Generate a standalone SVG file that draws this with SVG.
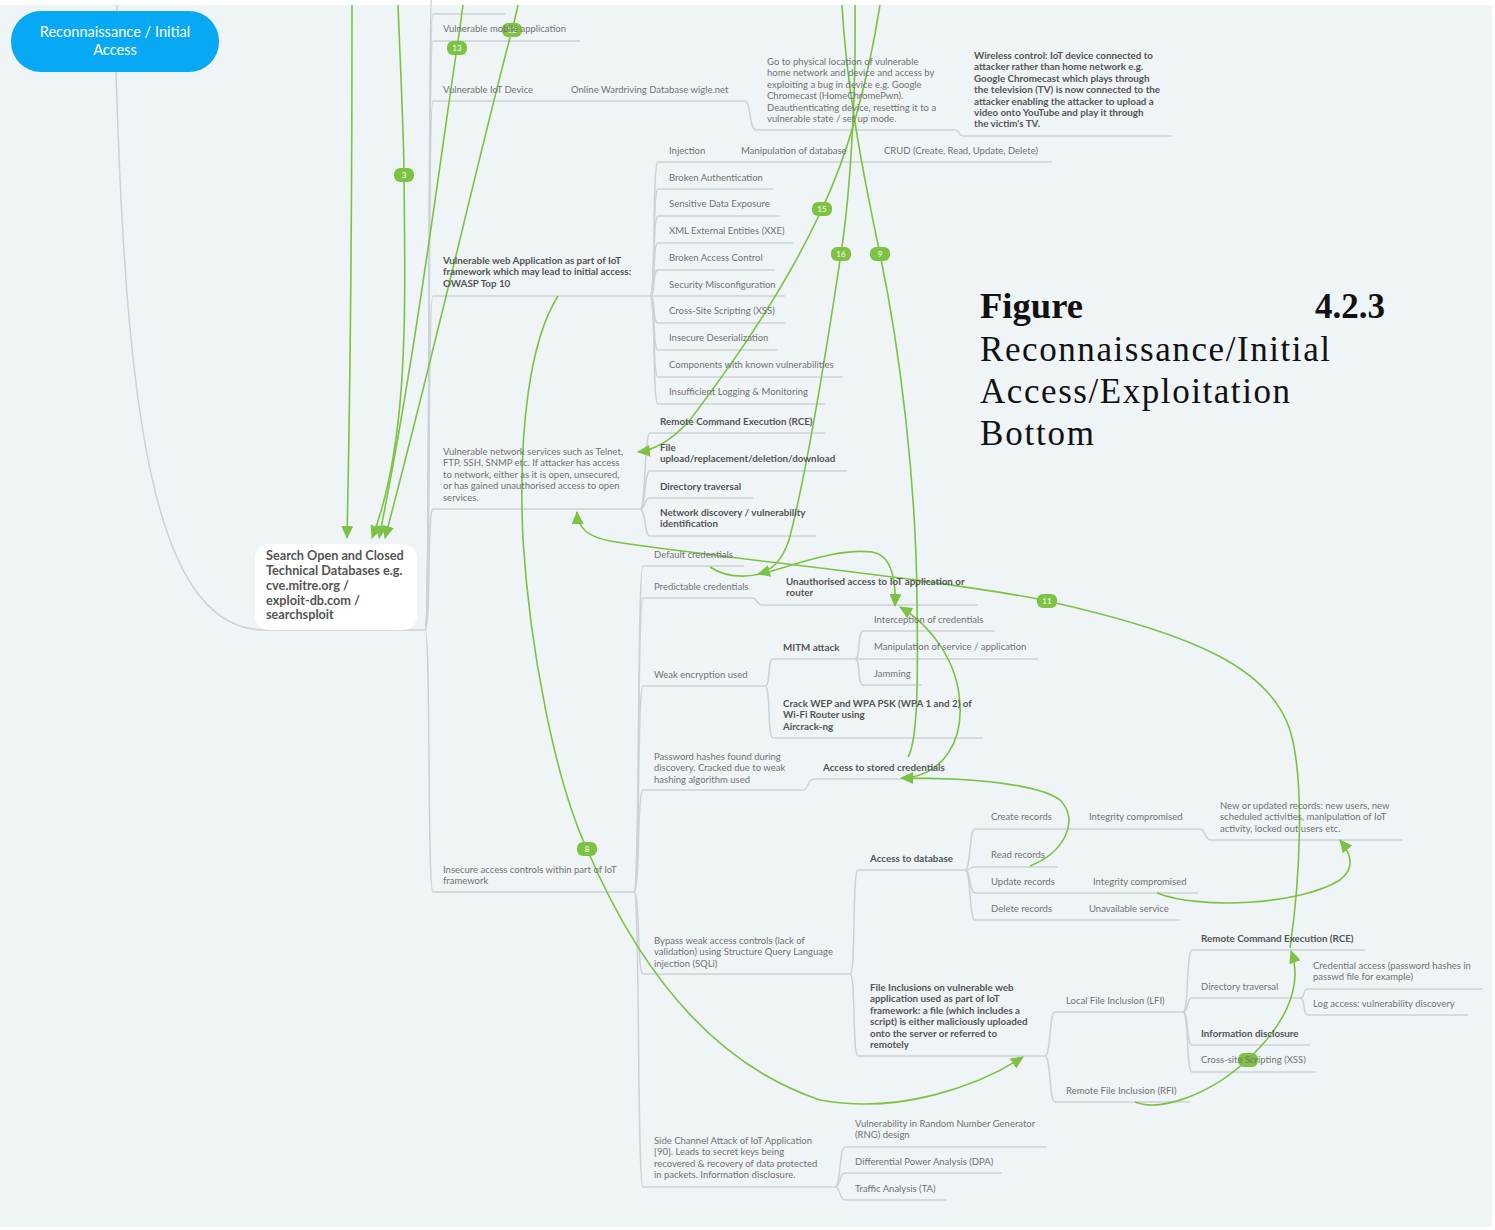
<svg xmlns="http://www.w3.org/2000/svg" width="1495" height="1230" viewBox="0 0 1495 1230">
  <style>
    .ln { fill: none; stroke: #cdd2d6; stroke-width: 1.5; }
    .g { fill: none; stroke: #7dc242; stroke-width: 1.6; }
    .ga { fill: none; stroke: #7dc242; stroke-width: 1.6; marker-end: url(#arr); }
    .t { font-family: Lato, "Open Sans", "Liberation Sans", sans-serif; font-size: 9.5px; fill: #727272; }
    .b { font-family: Lato, "Open Sans", "Liberation Sans", sans-serif; font-size: 9.8px; font-weight: bold; fill: #555555; }
    .bd { fill: #7dc242; }
    .bt { font-family: Lato, "Liberation Sans", sans-serif; font-size: 8px; fill: #ffffff; text-anchor: middle; }
    .cap { font-family: "Liberation Serif", "Times New Roman", serif; font-size: 35px; fill: #111111; }
  </style>
  <defs>
    <marker id="arr" markerUnits="userSpaceOnUse" markerWidth="14" markerHeight="12" refX="12" refY="6" orient="auto">
      <path d="M0,0 L13,6 L0,12 Z" fill="#7dc242"/>
    </marker>
  </defs>

  <!-- canvas -->
  <rect x="0" y="0" width="1495" height="1230" fill="#ffffff"/>
  <rect x="0" y="5" width="1492" height="1222" fill="#eff4f7"/>

  <!-- tree branches -->
  <g id="branches">
    <path class="ln" d="M117,5 L117,14"/>
    <path class="ln" d="M116,72 C126,400 150,626 262,630 L425,630"/>
    <!-- trunk from the search node -->
    <path class="ln" d="M425,630 C431,630 427,-30 433,-30"/>
    <path class="ln" d="M425,630 C431,630 427,14 433,14"/>
    <path class="ln" d="M425,630 C431,630 427,41 433,41"/>
    <path class="ln" d="M425,630 C431,630 427,101 433,101"/>
    <path class="ln" d="M425,630 C431,630 427,296 433,296"/>
    <path class="ln" d="M425,630 C431,630 427,509 433,509"/>
    <path class="ln" d="M425,630 C431,630 427,892 433,892"/>
    <path class="ln" d="M433,14 H505"/>
    <path class="ln" d="M433,41 H580"/>
    <path class="ln" d="M433,101 H745 C751,101 749,130 756,130 H955 C960,130 958,136 964,136 H1172"/>
    <path class="ln" d="M433,296 H650"/>
    <path class="ln" d="M433,509 H640"/>
    <path class="ln" d="M433,892 H634"/>

    <!-- OWASP top 10 -->
    <path class="ln" d="M650,296 C656,296 652,162 658,162 H1052"/>
    <path class="ln" d="M650,296 C656,296 652,189 658,189 H773"/>
    <path class="ln" d="M650,296 C656,296 652,216 658,216 H780"/>
    <path class="ln" d="M650,296 C656,296 652,243 658,243 H793"/>
    <path class="ln" d="M650,296 C656,296 652,270 658,270 H775"/>
    <path class="ln" d="M650,296 H785"/>
    <path class="ln" d="M650,296 C656,296 652,323 658,323 H785"/>
    <path class="ln" d="M650,296 C656,296 652,350 658,350 H778"/>
    <path class="ln" d="M650,296 C656,296 652,377 658,377 H843"/>
    <path class="ln" d="M650,296 C656,296 652,404 658,404 H825"/>

    <!-- network services -->
    <path class="ln" d="M640,509 C646,509 644,433 650,433 H825"/>
    <path class="ln" d="M640,509 C646,509 644,471 650,471 H847"/>
    <path class="ln" d="M640,509 C646,509 644,498 650,498 H753"/>
    <path class="ln" d="M640,509 C646,509 644,536 650,536 H816"/>

    <!-- insecure access controls -->
    <path class="ln" d="M634,892 C640,892 637,566 643,566 H744"/>
    <path class="ln" d="M634,892 C640,892 637,598 643,598 H752 C758,598 756,605 763,605 H978"/>
    <path class="ln" d="M634,892 C640,892 637,686 643,686 H765"/>
    <path class="ln" d="M634,892 C640,892 637,790 643,790 H803 C809,790 807,779 814,779 H955"/>
    <path class="ln" d="M634,892 C640,892 637,974 643,974 H850"/>
    <path class="ln" d="M634,892 C640,892 637,1187 643,1187 H835"/>

    <!-- weak encryption -->
    <path class="ln" d="M765,686 C771,686 767,659 773,659 H855"/>
    <path class="ln" d="M765,686 C771,686 767,738 773,738 H983"/>
    <path class="ln" d="M855,659 C861,659 857,631 863,631 H995"/>
    <path class="ln" d="M855,659 H1038"/>
    <path class="ln" d="M855,659 C861,659 857,685 863,685 H922"/>

    <!-- SQLi bypass -->
    <path class="ln" d="M850,974 C856,974 852,870 858,870 H965"/>
    <path class="ln" d="M850,974 C856,974 852,1056 858,1056 H1045"/>
    <path class="ln" d="M965,870 C971,870 969,829 975,829 H1200 C1206,829 1204,840 1211,840 H1403"/>
    <path class="ln" d="M965,870 C971,870 969,867 975,867 H1058"/>
    <path class="ln" d="M965,870 C971,870 969,893 975,893 H1198"/>
    <path class="ln" d="M965,870 C971,870 969,920 975,920 H1180"/>

    <!-- file inclusions -->
    <path class="ln" d="M1045,1056 C1051,1056 1049,1012 1055,1012 H1183"/>
    <path class="ln" d="M1045,1056 C1051,1056 1049,1102 1055,1102 H1190"/>
    <path class="ln" d="M1183,1012 C1189,1012 1186,950 1192,950 H1365"/>
    <path class="ln" d="M1183,1012 C1189,1012 1186,998 1192,998 H1300"/>
    <path class="ln" d="M1183,1012 C1189,1012 1186,1045 1192,1045 H1310"/>
    <path class="ln" d="M1183,1012 C1189,1012 1186,1072 1192,1072 H1316"/>
    <path class="ln" d="M1300,998 C1306,998 1302,989 1308,989 H1483"/>
    <path class="ln" d="M1300,998 C1306,998 1302,1015 1308,1015 H1468"/>

    <!-- side channel -->
    <path class="ln" d="M835,1187 C841,1187 839,1147 845,1147 H1047"/>
    <path class="ln" d="M835,1187 C841,1187 839,1173 845,1173 H1002"/>
    <path class="ln" d="M835,1187 C841,1187 839,1200 845,1200 H947"/>
  </g>

  <!-- cross links -->
  <g id="links">
    <path class="ga" d="M352,5 C352,200 350,400 347,538"/>
    <path class="ga" d="M398,5 C401,80 404,140 404,175 C405,300 410,440 372,538"/>
    <path class="ga" d="M463,5 C461,20 459,35 457,48 C440,160 415,360 379,538"/>
    <path class="ga" d="M518,5 C516,15 514,22 512,30 C480,150 440,330 385,538"/>
    <path class="ga" d="M880,5 C868,80 850,150 822,209 C780,300 720,380 690,420 C672,440 656,450 638,452"/>
    <path class="ga" d="M855,5 C856,80 852,180 841,254 C825,360 805,480 789,540 C782,560 773,570 758,574"/>
    <path class="g" d="M842,5 C846,80 860,160 880,254 C900,350 916,480 917,600 C918,680 918,740 908,757"/>
    <path class="ga" d="M1290,948 C1300,880 1305,780 1290,730 C1270,670 1200,635 1047,601 C950,580 700,556 610,541 C590,537 578,530 577,512"/>
    <path class="ga" d="M558,296 C530,340 518,430 523,540 C530,650 555,780 587,849 C630,950 700,1060 820,1100 C900,1115 980,1085 1023,1057"/>
    <path class="ga" d="M710,567 C725,577 745,578 765,573 C800,563 840,548 872,552 C892,555 896,580 895,606"/>
    <path class="ga" d="M908,778 C945,772 962,740 960,705 C958,660 930,625 900,607"/>
    <path class="ga" d="M1030,866 C1065,852 1080,820 1060,800 C1040,785 980,778 901,778"/>
    <path class="ga" d="M1157,893 C1200,910 1300,905 1340,880 C1355,868 1352,855 1340,840"/>
    <path class="ga" d="M1135,1102 C1160,1112 1210,1095 1247,1060 C1280,1030 1305,990 1291,951"/>
  </g>

  <!-- link badges -->
  <g id="badges">
    <rect class="bd" x="394" y="168" width="20" height="14" rx="6"/><text class="bt" x="404" y="178">3</text>
    <rect class="bd" x="447" y="41" width="20" height="14" rx="6"/><text class="bt" x="457" y="51">13</text>
    <rect class="bd" x="502" y="23" width="20" height="14" rx="6"/><text class="bt" x="512" y="33">12</text>
    <rect class="bd" x="812" y="202" width="20" height="14" rx="6"/><text class="bt" x="822" y="212">15</text>
    <rect class="bd" x="831" y="247" width="20" height="14" rx="6"/><text class="bt" x="841" y="257">16</text>
    <rect class="bd" x="870" y="247" width="20" height="14" rx="6"/><text class="bt" x="880" y="257">9</text>
    <rect class="bd" x="1037" y="594" width="20" height="14" rx="6"/><text class="bt" x="1047" y="604">11</text>
    <rect class="bd" x="577" y="842" width="20" height="14" rx="6"/><text class="bt" x="587" y="852">8</text>
    <rect class="bd" x="1238" y="1053" width="20" height="14" rx="6"/>
  </g>

  <!-- root -->
  <g id="root">
    <rect x="11" y="11" width="208" height="61" rx="30" fill="#08a9f4"/>
    <text x="115" y="37" font-family="Lato, 'Liberation Sans', sans-serif" font-size="14.6" fill="#ffffff" text-anchor="middle">Reconnaissance / Initial</text>
    <text x="115" y="55" font-family="Lato, 'Liberation Sans', sans-serif" font-size="14.6" fill="#ffffff" text-anchor="middle">Access</text>
  </g>

  <g id="search">
    <rect x="255" y="544" width="162" height="86" rx="14" fill="#ffffff"/>
    <text font-family="Lato, 'Liberation Sans', sans-serif" font-size="12.7" font-weight="bold" fill="#555555">
      <tspan x="266" y="560">Search Open and Closed</tspan>
      <tspan x="266" y="575">Technical Databases e.g.</tspan>
      <tspan x="266" y="590">cve.mitre.org /</tspan>
      <tspan x="266" y="605">exploit-db.com /</tspan>
      <tspan x="266" y="619">searchsploit</tspan>
    </text>
  </g>

  <g id="n-mobile"><text class="t" x="443" y="32">Vulnerable mobile application</text></g>
  <g id="n-iot"><text class="t" x="443" y="93">Vulnerable IoT Device</text></g>
  <g id="n-wigle"><text class="t" x="571" y="93">Online Wardriving Database wigle.net</text></g>
  <g id="n-physical">
    <text class="t">
      <tspan x="767" y="65">Go to physical location of vulnerable</tspan>
      <tspan x="767" y="76.4">home network and device and access by</tspan>
      <tspan x="767" y="87.8">exploiting a bug in device e.g. Google</tspan>
      <tspan x="767" y="99.2">Chromecast (HomeChromePwn).</tspan>
      <tspan x="767" y="110.6">Deauthenticating device, resetting it to a</tspan>
      <tspan x="767" y="122">vulnerable state / set up mode.</tspan>
    </text>
  </g>
  <g id="n-wireless">
    <text class="b">
      <tspan x="974" y="59">Wireless control: IoT device connected to</tspan>
      <tspan x="974" y="70.4">attacker rather than home network e.g.</tspan>
      <tspan x="974" y="81.8">Google Chromecast which plays through</tspan>
      <tspan x="974" y="93.2">the television (TV) is now connected to the</tspan>
      <tspan x="974" y="104.6">attacker enabling the attacker to upload a</tspan>
      <tspan x="974" y="116">video onto YouTube and play it through</tspan>
      <tspan x="974" y="127.4">the victim's TV.</tspan>
    </text>
  </g>

  <g id="n-owasp">
    <text class="b">
      <tspan x="443" y="264">Vulnerable web Application as part of IoT</tspan>
      <tspan x="443" y="275.4">framework which may lead to initial access:</tspan>
      <tspan x="443" y="286.8">OWASP Top 10</tspan>
    </text>
  </g>
  <g id="n-injection"><text class="t" x="669" y="154">Injection</text></g>
  <g id="n-manipdb"><text class="t" x="741" y="154">Manipulation of database</text></g>
  <g id="n-crud"><text class="t" x="884" y="154">CRUD (Create, Read, Update, Delete)</text></g>
  <g id="n-brokenauth"><text class="t" x="669" y="181">Broken Authentication</text></g>
  <g id="n-sde"><text class="t" x="669" y="207">Sensitive Data Exposure</text></g>
  <g id="n-xxe"><text class="t" x="669" y="234">XML External Entities (XXE)</text></g>
  <g id="n-bac"><text class="t" x="669" y="261">Broken Access Control</text></g>
  <g id="n-misconf"><text class="t" x="669" y="288">Security Misconfiguration</text></g>
  <g id="n-xss"><text class="t" x="669" y="314">Cross-Site Scripting (XSS)</text></g>
  <g id="n-deser"><text class="t" x="669" y="341">Insecure Deserialization</text></g>
  <g id="n-components"><text class="t" x="669" y="368">Components with known vulnerabilities</text></g>
  <g id="n-logging"><text class="t" x="669" y="395">Insufficient Logging &amp; Monitoring</text></g>

  <g id="n-netsvc">
    <text class="t">
      <tspan x="443" y="455">Vulnerable network services such as Telnet,</tspan>
      <tspan x="443" y="466.4">FTP, SSH, SNMP etc. If attacker has access</tspan>
      <tspan x="443" y="477.8">to network, either as it is open, unsecured,</tspan>
      <tspan x="443" y="489.2">or has gained unauthorised access to open</tspan>
      <tspan x="443" y="500.6">services.</tspan>
    </text>
  </g>
  <g id="n-rce1"><text class="b" x="660" y="425">Remote Command Execution (RCE)</text></g>
  <g id="n-fileup">
    <text class="b"><tspan x="660" y="451">File</tspan><tspan x="660" y="462.4">upload/replacement/deletion/download</tspan></text>
  </g>
  <g id="n-dirtrav1"><text class="b" x="660" y="490">Directory traversal</text></g>
  <g id="n-netdisc">
    <text class="b"><tspan x="660" y="516">Network discovery / vulnerability</tspan><tspan x="660" y="527.4">identification</tspan></text>
  </g>

  <g id="n-insecure">
    <text class="t"><tspan x="443" y="873">Insecure access controls within part of IoT</tspan><tspan x="443" y="884.4">framework</tspan></text>
  </g>
  <g id="n-default"><text class="t" x="654" y="558">Default credentials</text></g>
  <g id="n-predict"><text class="t" x="654" y="590">Predictable credentials</text></g>
  <g id="n-unauth">
    <text class="b"><tspan x="786" y="585">Unauthorised access to IoT application or</tspan><tspan x="786" y="596.4">router</tspan></text>
  </g>
  <g id="n-weakenc"><text class="t" x="654" y="678">Weak encryption used</text></g>
  <g id="n-mitm"><text class="b" x="783" y="651">MITM attack</text></g>
  <g id="n-intercept"><text class="t" x="874" y="623">Interception of credentials</text></g>
  <g id="n-manipsvc"><text class="t" x="874" y="650">Manipulation of service / application</text></g>
  <g id="n-jamming"><text class="t" x="874" y="677">Jamming</text></g>
  <g id="n-crack">
    <text class="b">
      <tspan x="783" y="707">Crack WEP and WPA PSK (WPA 1 and 2) of</tspan>
      <tspan x="783" y="718.4">Wi-Fi Router using</tspan>
      <tspan x="783" y="729.8">Aircrack-ng</tspan>
    </text>
  </g>
  <g id="n-hashes">
    <text class="t">
      <tspan x="654" y="760">Password hashes found during</tspan>
      <tspan x="654" y="771.4">discovery. Cracked due to weak</tspan>
      <tspan x="654" y="782.8">hashing algorithm used</tspan>
    </text>
  </g>
  <g id="n-stored"><text class="b" x="823" y="771">Access to stored credentials</text></g>
  <g id="n-bypass">
    <text class="t">
      <tspan x="654" y="944">Bypass weak access controls (lack of</tspan>
      <tspan x="654" y="955.4">validation) using Structure Query Language</tspan>
      <tspan x="654" y="966.8">injection (SQLi)</tspan>
    </text>
  </g>
  <g id="n-db"><text class="b" x="870" y="862">Access to database</text></g>
  <g id="n-create"><text class="t" x="991" y="820">Create records</text></g>
  <g id="n-integ1"><text class="t" x="1089" y="820">Integrity compromised</text></g>
  <g id="n-newrec">
    <text class="t">
      <tspan x="1220" y="809">New or updated records: new users, new</tspan>
      <tspan x="1220" y="820.4">scheduled activities, manipulation of IoT</tspan>
      <tspan x="1220" y="831.8">activity, locked out users etc.</tspan>
    </text>
  </g>
  <g id="n-read"><text class="t" x="991" y="858">Read records</text></g>
  <g id="n-update"><text class="t" x="991" y="885">Update records</text></g>
  <g id="n-integ2"><text class="t" x="1093" y="885">Integrity compromised</text></g>
  <g id="n-delete"><text class="t" x="991" y="912">Delete records</text></g>
  <g id="n-unavail"><text class="t" x="1089" y="912">Unavailable service</text></g>
  <g id="n-fileincl">
    <text class="b">
      <tspan x="870" y="991">File Inclusions on vulnerable web</tspan>
      <tspan x="870" y="1002.4">application used as part of IoT</tspan>
      <tspan x="870" y="1013.8">framework: a file (which includes a</tspan>
      <tspan x="870" y="1025.2">script) is either maliciously uploaded</tspan>
      <tspan x="870" y="1036.6">onto the server or referred to</tspan>
      <tspan x="870" y="1048">remotely</tspan>
    </text>
  </g>
  <g id="n-lfi"><text class="t" x="1066" y="1004">Local File Inclusion (LFI)</text></g>
  <g id="n-rfi"><text class="t" x="1066" y="1094">Remote File Inclusion (RFI)</text></g>
  <g id="n-rce2"><text class="b" x="1201" y="942">Remote Command Execution (RCE)</text></g>
  <g id="n-dirtrav2"><text class="t" x="1201" y="990">Directory traversal</text></g>
  <g id="n-credacc">
    <text class="t"><tspan x="1313" y="969">Credential access (password hashes in</tspan><tspan x="1313" y="980.4">passwd file for example)</tspan></text>
  </g>
  <g id="n-logacc"><text class="t" x="1313" y="1007">Log access: vulnerability discovery</text></g>
  <g id="n-infodisc"><text class="b" x="1201" y="1037">Information disclosure</text></g>
  <g id="n-xss2"><text class="t" x="1201" y="1063">Cross-site Scripting (XSS)</text></g>
  <g id="n-side">
    <text class="t">
      <tspan x="654" y="1144">Side Channel Attack of IoT Application</tspan>
      <tspan x="654" y="1155.4">[90]. Leads to secret keys being</tspan>
      <tspan x="654" y="1166.8">recovered &amp; recovery of data protected</tspan>
      <tspan x="654" y="1178.2">in packets. Information disclosure.</tspan>
    </text>
  </g>
  <g id="n-rng">
    <text class="t"><tspan x="855" y="1127">Vulnerability in Random Number Generator</tspan><tspan x="855" y="1138.4">(RNG) design</tspan></text>
  </g>
  <g id="n-dpa"><text class="t" x="855" y="1165">Differential Power Analysis (DPA)</text></g>
  <g id="n-ta"><text class="t" x="855" y="1192">Traffic Analysis (TA)</text></g>

  <!-- caption -->
  <g id="caption">
    <text class="cap" x="980" y="318" font-weight="bold" textLength="103" lengthAdjust="spacingAndGlyphs">Figure</text>
    <text class="cap" x="1315" y="318" font-weight="bold" textLength="70" lengthAdjust="spacingAndGlyphs">4.2.3</text>
    <text class="cap" x="980" y="361" textLength="350" lengthAdjust="spacing">Reconnaissance/Initial</text>
    <text class="cap" x="980" y="403" textLength="310" lengthAdjust="spacing">Access/Exploitation</text>
    <text class="cap" x="980" y="445" textLength="114" lengthAdjust="spacing">Bottom</text>
  </g>
</svg>
